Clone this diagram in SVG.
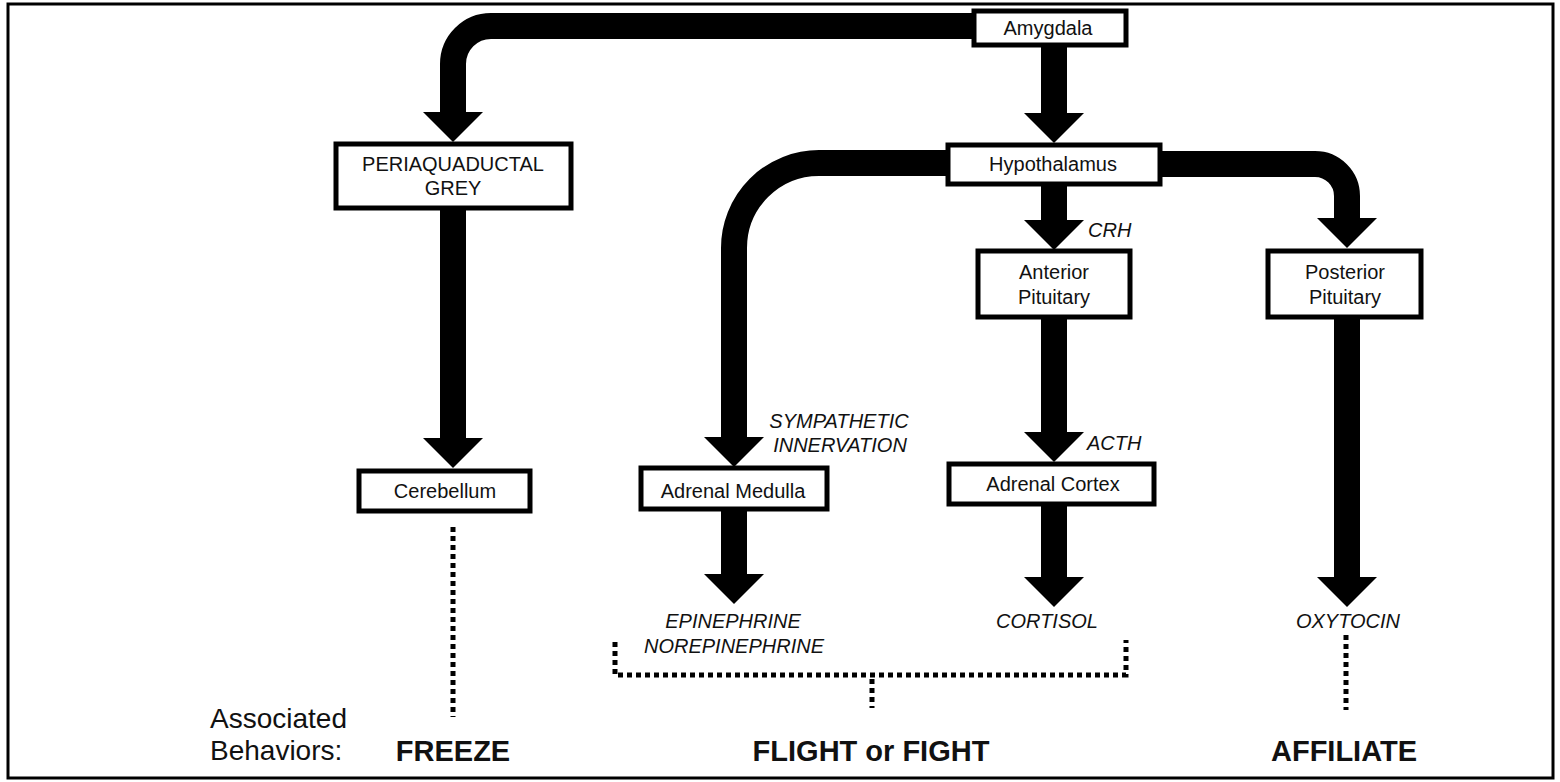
<svg xmlns="http://www.w3.org/2000/svg" width="1560" height="782" viewBox="0 0 1560 782">
<style>
.box{fill:#fff;stroke:#000;stroke-width:5}
.t{font-family:"Liberation Sans",Arial,sans-serif;font-size:20px;fill:#111;text-anchor:middle}
.i{font-family:"Liberation Sans",Arial,sans-serif;font-size:20px;font-style:italic;fill:#111}
.c{text-anchor:middle}
.shaft{fill:none;stroke:#000;stroke-width:26;stroke-linecap:butt}
.dot{fill:none;stroke:#000;stroke-width:5;stroke-dasharray:5 4}
.lab{font-family:"Liberation Sans",Arial,sans-serif;font-size:28px;fill:#111}
.bold{font-family:"Liberation Sans",Arial,sans-serif;font-size:29px;font-weight:bold;fill:#111;text-anchor:middle}
</style>
<defs>
<marker id="head" viewBox="0 0 30 60" markerWidth="30" markerHeight="60" refX="0" refY="30" markerUnits="userSpaceOnUse" orient="auto">
<path d="M0,0 L30,30 L0,60 Z" fill="#000"/>
</marker>
</defs>
<rect x="8" y="4" width="1545" height="774" fill="#fff" stroke="#000" stroke-width="3"/>
<g id="connectors">
<path class="shaft" d="M980 26 H491 A38 38 0 0 0 453 64 V112" marker-end="url(#head)"/>
<path class="shaft" d="M1054 44 V113" marker-end="url(#head)"/>
<path class="shaft" d="M950 163 H819 A85 85 0 0 0 734 248 V437" marker-end="url(#head)"/>
<path class="shaft" d="M1054 184 V220" marker-end="url(#head)"/>
<path class="shaft" d="M1158 164 H1315 A32 32 0 0 1 1347 196 V218" marker-end="url(#head)"/>
<path class="shaft" d="M453 208 V438" marker-end="url(#head)"/>
<path class="shaft" d="M1054 317 V432" marker-end="url(#head)"/>
<path class="shaft" d="M734 509 V574" marker-end="url(#head)"/>
<path class="shaft" d="M1054 504 V577" marker-end="url(#head)"/>
<path class="shaft" d="M1347 317 V577" marker-end="url(#head)"/>
<path class="dot" d="M453 527 V717"/>
<path class="dot" d="M615 642 V675 H1126 V640"/>
<path class="dot" d="M872 679 V708"/>
<path class="dot" d="M1346 635 V710"/>
</g>
<g id="amygdala"><rect class="box" x="974" y="11" width="152" height="34"/><text class="t" x="1048" y="35">Amygdala</text></g>
<g id="hypothalamus"><rect class="box" x="948" y="145" width="212" height="39"/><text class="t" x="1053" y="171">Hypothalamus</text></g>
<g id="pag"><rect class="box" x="336" y="144" width="235" height="64"/><text class="t" x="453" y="171">PERIAQUADUCTAL</text><text class="t" x="453" y="195">GREY</text></g>
<g id="anterior-pituitary"><rect class="box" x="978" y="251" width="152" height="66"/><text class="t" x="1054" y="279">Anterior</text><text class="t" x="1054" y="304">Pituitary</text></g>
<g id="posterior-pituitary"><rect class="box" x="1268" y="251" width="153" height="66"/><text class="t" x="1345" y="279">Posterior</text><text class="t" x="1345" y="304">Pituitary</text></g>
<g id="cerebellum"><rect class="box" x="359" y="471" width="171" height="40"/><text class="t" x="445" y="498">Cerebellum</text></g>
<g id="adrenal-medulla"><rect class="box" x="641" y="468" width="186" height="41"/><text class="t" x="733" y="498">Adrenal Medulla</text></g>
<g id="adrenal-cortex"><rect class="box" x="949" y="464" width="205" height="40"/><text class="t" x="1053" y="491">Adrenal Cortex</text></g>
<g id="labels">
<text class="i" x="1088" y="237">CRH</text>
<text class="i" x="1087" y="450">ACTH</text>
<text class="i c" x="839" y="428">SYMPATHETIC</text>
<text class="i c" x="840" y="452">INNERVATION</text>
<text class="i c" x="733" y="628">EPINEPHRINE</text>
<text class="i c" x="734" y="653">NOREPINEPHRINE</text>
<text class="i c" x="1047" y="628">CORTISOL</text>
<text class="i c" x="1348" y="628">OXYTOCIN</text>
<text class="lab" x="210" y="728">Associated</text>
<text class="lab" x="210" y="760">Behaviors:</text>
<text class="bold" x="453" y="761">FREEZE</text>
<text class="bold" x="871" y="761">FLIGHT or FIGHT</text>
<text class="bold" x="1344" y="761">AFFILIATE</text>
</g>
</svg>
